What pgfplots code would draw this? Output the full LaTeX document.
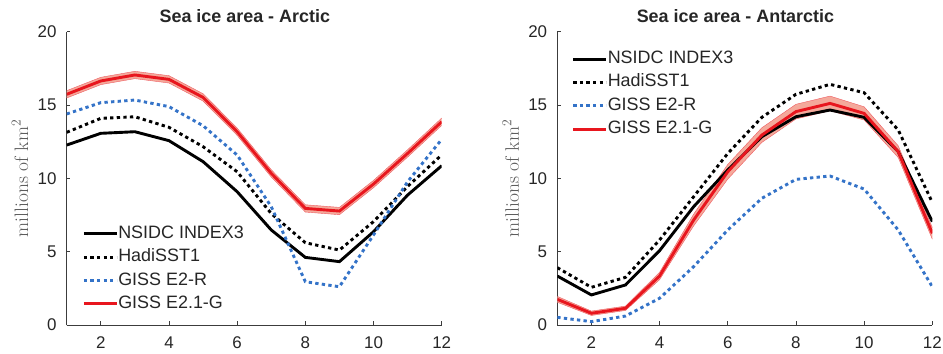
\documentclass[border=0pt]{standalone}
\usepackage{pgfplots}
\pgfplotsset{compat=1.18}
\usepgfplotslibrary{fillbetween}
\usepackage{fontspec}
\setmainfont{Liberation Sans}
\newfontfamily\lmr{Latin Modern Roman}
\definecolor{gblue}{RGB}{52,115,200}
\definecolor{gred}{RGB}{232,22,30}
\definecolor{bandred}{RGB}{244,169,155}
\definecolor{axgray}{RGB}{60,60,60}
\definecolor{txtgray}{RGB}{38,38,38}
\begin{document}
\begin{tikzpicture}
\pgfplotsset{
  myax/.style={
    scale only axis, width=375bp, height=293.3bp,
    xmin=1, xmax=12, ymin=0, ymax=20,
    xtick={2,4,6,8,10,12}, ytick={0,5,10,15,20},
    axis x line*=bottom, axis y line*=left,
    axis line style={draw=axgray, line width=0.6bp, -},
    tick align=inside, major tick length=3.5bp,
    tick style={draw=axgray, line width=0.6bp},
    ticklabel style={font=\fontsize{17}{20}\selectfont, text=txtgray},
    /pgf/number format/assume math mode=true,
    xticklabel style={anchor=north, inner sep=0pt, yshift=-11.5bp},
    yticklabel style={anchor=east, inner sep=0pt, xshift=-10bp},
    every axis y label/.style={at={(axis description cs:-0.1245,0.5)}, rotate=90, anchor=center},
    ylabel={\lmr millions of km\textsuperscript{2}},
    ylabel style={font=\fontsize{19.5}{22}\selectfont, text=black!65},
    every axis title/.style={at={(axis description cs:0.475,1)}, anchor=base, yshift=9bp},
    title style={font=\bfseries\fontsize{18}{21}\selectfont, text=txtgray},
    legend cell align=left,
    legend image code/.code={\draw[##1, line width=3bp] (0bp,0bp) -- (33bp,0bp);},
    legend style={draw=none, fill=none, inner sep=0pt, row sep=6.3bp,
      font=\fontsize{18}{21}\selectfont, text=txtgray,
      nodes={inner sep=0pt, text height=13bp, text depth=4bp},
      /tikz/every even column/.append style={column sep=3.5bp}},
  },
  nsidc/.style={black, solid, line width=2.9bp},
  hadi/.style={black, line width=2.9bp, dash pattern=on 3.3bp off 3.3bp},
  gissr/.style={gblue, line width=2.9bp, dash pattern=on 3.3bp off 3.3bp},
  gissg/.style={gred, solid, line width=2.9bp},
}
% ---------------- Arctic ----------------
\begin{axis}[myax, title={Sea ice area - Arctic},
  legend style={at={(axis description cs:0.041,0.0426)}, anchor=south west}]
\addplot[name path=aup, draw=gred!70, line width=0.4bp, forget plot] coordinates {
 (1,15.98) (2,16.89) (3,17.30) (4,17.00) (5,15.77) (6,13.43) (7,10.59) (8,8.20) (9,8.02) (10,9.86) (11,11.95) (12,14.11)};
\addplot[name path=alo, draw=gred!70, line width=0.4bp, forget plot] coordinates {
 (1,15.48) (2,16.39) (3,16.80) (4,16.50) (5,15.27) (6,12.93) (7,10.09) (8,7.70) (9,7.52) (10,9.36) (11,11.45) (12,13.61)};
\addplot[bandred, forget plot] fill between[of=aup and alo];
\addplot[nsidc] coordinates {
 (1,12.27) (2,13.07) (3,13.18) (4,12.57) (5,11.14) (6,9.09) (7,6.48) (8,4.61) (9,4.32) (10,6.36) (11,8.86) (12,10.86)};
\addlegendentry{NSIDC INDEX3}
\addplot[hadi] coordinates {
 (1,13.14) (2,14.09) (3,14.20) (4,13.48) (5,12.16) (6,10.45) (7,7.60) (8,5.61) (9,5.11) (10,7.05) (11,9.45) (12,11.60)};
\addlegendentry{HadiSST1}
\addplot[gissr] coordinates {
 (1,14.39) (2,15.16) (3,15.34) (4,14.89) (5,13.59) (6,11.59) (7,8.07) (8,2.95) (9,2.61) (10,6.14) (11,9.77) (12,12.66)};
\addlegendentry{GISS E2-R}
\addplot[gissg] coordinates {
 (1,15.73) (2,16.64) (3,17.05) (4,16.75) (5,15.52) (6,13.18) (7,10.34) (8,7.95) (9,7.77) (10,9.61) (11,11.70) (12,13.86)};
\addlegendentry{GISS E2.1-G}
\end{axis}
% ---------------- Antarctic ----------------
\begin{axis}[myax, xshift=490.6bp, title={Sea ice area - Antarctic},
  legend style={at={(axis description cs:0.038,0.936)}, anchor=north west}]
\addplot[name path=bup, draw=gred!70, line width=0.4bp, forget plot] coordinates {
 (1,1.95) (2,0.95) (3,1.29) (4,3.59) (5,7.56) (6,10.95) (7,13.45) (8,15.05) (9,15.61) (10,14.88) (11,12.22) (12,6.65)};
\addplot[name path=blo, draw=gred!70, line width=0.4bp, forget plot] coordinates {
 (1,1.55) (2,0.65) (3,0.99) (4,3.09) (5,6.76) (6,9.95) (7,12.45) (8,14.05) (9,14.61) (10,13.98) (11,11.42) (12,5.85)};
\addplot[bandred, forget plot] fill between[of=bup and blo];
\addplot[nsidc] coordinates {
 (1,3.34) (2,2.05) (3,2.73) (4,5.07) (5,8.07) (6,10.57) (7,12.84) (8,14.20) (9,14.66) (10,14.16) (11,11.82) (12,7.05)};
\addlegendentry{NSIDC INDEX3}
\addplot[hadi] coordinates {
 (1,3.91) (2,2.57) (3,3.25) (4,5.80) (5,8.75) (6,11.70) (7,14.16) (8,15.73) (9,16.41) (10,15.84) (11,13.30) (12,8.36)};
\addlegendentry{HadiSST1}
\addplot[gissr] coordinates {
 (1,0.52) (2,0.23) (3,0.61) (4,1.82) (5,3.98) (6,6.48) (7,8.64) (8,9.93) (9,10.16) (10,9.27) (11,6.48) (12,2.61)};
\addlegendentry{GISS E2-R}
\addplot[gissg] coordinates {
 (1,1.75) (2,0.80) (3,1.14) (4,3.34) (5,7.16) (6,10.45) (7,12.95) (8,14.55) (9,15.11) (10,14.43) (11,11.82) (12,6.25)};
\addlegendentry{GISS E2.1-G}
\end{axis}
\path[use as bounding box] (-66.7bp,-29bp) rectangle (876.3bp,325bp);
\end{tikzpicture}
\end{document}
